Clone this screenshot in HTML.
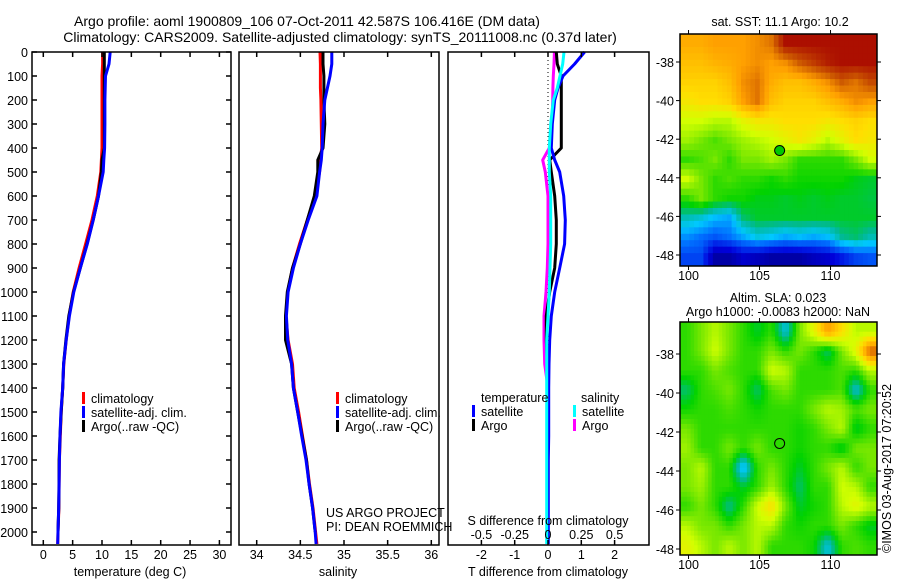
<!DOCTYPE html>
<html><head><meta charset="utf-8"><title>Argo profile</title>
<style>
html,body{margin:0;padding:0;background:#fff;}
svg{display:block;font-family:"Liberation Sans",sans-serif;}
text{font-size:12.5px;fill:#000;}
</style></head>
<body>
<svg id="chart" width="900" height="580" viewBox="0 0 900 580" xmlns="http://www.w3.org/2000/svg">
<text x="307" y="26" text-anchor="middle" style="font-size:14px">Argo profile: aoml 1900809_106 07-Oct-2011 42.587S 106.416E (DM data)</text>
<text x="340" y="42" text-anchor="middle" style="font-size:14px">Climatology: CARS2009. Satellite-adjusted climatology: synTS_20111008.nc (0.37d later)</text>
<g id="g1"></g>
<g id="g2"></g>
<g id="g3"></g>
<g id="m1"></g>
<g id="m2"></g>
<text x="780" y="26" text-anchor="middle">sat. SST: 11.1 Argo: 10.2</text>
<text x="778" y="302" text-anchor="middle">Altim. SLA: 0.023</text>
<text x="778" y="316" text-anchor="middle">Argo h1000: -0.0083 h2000: NaN</text>
<text transform="translate(891,553) rotate(-90)">©IMOS 03-Aug-2017 07:20:52</text>
</svg>
<script>
const depths = [0,50,100,150,200,300,400,450,500,600,700,800,900,1000,1100,1200,1300,1400,1500,1600,1700,1800,1900,2000,2050];
const tClim = [10.1,10.1,10.0,10.0,10.0,10.0,10.0,9.9,9.8,9.2,8.3,7.2,6.1,5.1,4.4,3.9,3.5,3.3,3.05,2.9,2.75,2.7,2.65,2.5,2.45];
const tSat = [11.4,11.2,10.6,10.55,10.5,10.5,10.45,10.3,10.2,9.4,8.5,7.5,6.3,5.2,4.45,3.9,3.45,3.3,3.0,2.85,2.75,2.7,2.62,2.5,2.45];
const tArgo = [10.4,10.4,10.4,10.4,10.4,10.4,10.4,10.0,9.9,9.4,8.5,7.45,6.3,5.15,4.35,3.85,3.45,3.3,3.05,2.85,2.7,2.68,2.62,2.5,2.45];
const sClim = [34.725,34.73,34.73,34.73,34.735,34.74,34.745,34.73,34.72,34.67,34.58,34.49,34.41,34.355,34.335,34.36,34.41,34.43,34.48,34.525,34.57,34.605,34.645,34.675,34.69];
const sSat = [34.86,34.86,34.84,34.81,34.78,34.76,34.75,34.74,34.72,34.69,34.59,34.5,34.42,34.36,34.34,34.355,34.4,34.42,34.47,34.515,34.565,34.6,34.64,34.67,34.68];
const sArgo = [34.76,34.76,34.77,34.77,34.77,34.78,34.76,34.70,34.70,34.66,34.58,34.5,34.41,34.35,34.33,34.33,34.4,34.42,34.47,34.52,34.57,34.6,34.64,34.67,34.68];
const dTSat = [1.1,0.8,0.45,0.3,0.2,0.13,0.1,0.2,0.35,0.47,0.52,0.5,0.35,0.2,0.1,0.05,0.03,0.02,0.02,0.02,0.01,0.01,0.01,0.01,0.01];
const dTArgo = [0.25,0.28,0.4,0.4,0.4,0.4,0.4,0.05,0.1,0.2,0.25,0.25,0.2,0.05,-0.05,-0.05,-0.02,0,0,0,0,0,0,0,0];
const dSSat = [0.12,0.11,0.09,0.07,0.04,0.02,0.01,0.01,0.01,0.02,0.02,0.02,0.015,0.01,0,-0.01,-0.01,-0.01,-0.01,-0.01,-0.01,-0.01,-0.01,-0.01,-0.01];
const dSArgo = [0.048,0.045,0.04,0.037,0.035,0.03,0.01,-0.04,-0.02,0,0,0,-0.005,-0.015,-0.03,-0.03,-0.025,0,0,0,0,0,0,0,0];
const depthTicks = [0,100,200,300,400,500,600,700,800,900,1000,1100,1200,1300,1400,1500,1600,1700,1800,1900,2000];
const tTicks = [0,5,10,15,20,25,30];
const sTicks = [34,34.5,35,35.5,36];
const sTickLabels = ["34","34.5","35","35.5","36"];
const dTTicks = [-2,-1,0,1,2];
const dSTicks = [-0.5,-0.25,0,0.25,0.5];
const dSTickLabels = ["-0.5","-0.25","0","0.25","0.5"];
const lonTicks = [100,105,110];
const latTicks = [-38,-40,-42,-44,-46,-48];
const argoLon = 106.416, argoLat = -42.587;
const sstGrid = [
[0.78,0.78,0.8,0.8,0.8,0.82,0.85,0.98,0.98,0.98,0.98,0.98,0.98,0.98],
[0.75,0.75,0.77,0.78,0.8,0.82,0.8,0.82,0.88,0.92,0.96,0.98,0.98,0.98],
[0.72,0.72,0.72,0.75,0.82,0.85,0.78,0.75,0.75,0.78,0.82,0.88,0.85,0.9],
[0.68,0.7,0.7,0.72,0.8,0.85,0.75,0.72,0.72,0.72,0.75,0.78,0.82,0.8],
[0.62,0.62,0.6,0.6,0.65,0.68,0.68,0.7,0.7,0.7,0.68,0.7,0.72,0.7],
[0.58,0.55,0.52,0.55,0.58,0.6,0.62,0.65,0.68,0.65,0.6,0.65,0.7,0.68],
[0.5,0.52,0.55,0.5,0.55,0.55,0.58,0.55,0.5,0.5,0.5,0.5,0.55,0.62],
[0.62,0.55,0.5,0.52,0.5,0.5,0.48,0.5,0.48,0.48,0.48,0.48,0.46,0.45],
[0.5,0.55,0.5,0.48,0.48,0.46,0.46,0.45,0.46,0.45,0.46,0.45,0.45,0.44],
[0.38,0.36,0.32,0.3,0.42,0.45,0.45,0.45,0.45,0.45,0.45,0.45,0.45,0.45],
[0.28,0.25,0.22,0.25,0.3,0.35,0.33,0.3,0.32,0.3,0.32,0.4,0.42,0.38],
[0.2,0.2,0.05,0.05,0.1,0.08,0.05,0.05,0.05,0.08,0.1,0.15,0.2,0.22]];
const slaGrid = [
[0.5,0.55,0.6,0.55,0.5,0.45,0.5,0.35,0.55,0.65,0.8,0.7,0.6,0.6],
[0.5,0.55,0.62,0.55,0.5,0.5,0.55,0.5,0.55,0.5,0.42,0.55,0.65,0.88],
[0.5,0.5,0.55,0.52,0.5,0.5,0.62,0.6,0.5,0.5,0.5,0.52,0.5,0.6],
[0.42,0.5,0.52,0.55,0.5,0.42,0.52,0.55,0.5,0.5,0.5,0.52,0.35,0.5],
[0.48,0.5,0.5,0.52,0.5,0.48,0.5,0.5,0.5,0.55,0.6,0.58,0.52,0.55],
[0.55,0.5,0.5,0.5,0.5,0.5,0.5,0.5,0.48,0.5,0.55,0.6,0.45,0.5],
[0.58,0.5,0.5,0.55,0.5,0.55,0.5,0.5,0.48,0.5,0.5,0.45,0.55,0.55],
[0.55,0.6,0.5,0.5,0.3,0.5,0.55,0.5,0.45,0.5,0.55,0.6,0.5,0.55],
[0.55,0.58,0.5,0.5,0.45,0.5,0.58,0.5,0.42,0.5,0.5,0.62,0.6,0.5],
[0.5,0.55,0.5,0.4,0.5,0.62,0.7,0.55,0.45,0.48,0.5,0.6,0.65,0.6],
[0.6,0.55,0.55,0.5,0.55,0.6,0.6,0.5,0.48,0.5,0.5,0.55,0.5,0.45],
[0.65,0.6,0.55,0.6,0.55,0.6,0.5,0.5,0.5,0.48,0.35,0.5,0.52,0.5]];

const NS = "http://www.w3.org/2000/svg";
function mk(parent, tag, attrs){const e=document.createElementNS(NS,tag);for(const k in attrs)e.setAttribute(k,attrs[k]);parent.appendChild(e);return e;}
function txt(parent,x,y,s,anchor){const t=mk(parent,"text",{x:x,y:y,"text-anchor":anchor||"middle"});t.textContent=s;return t;}

const PT=52, PB=545;
const yD = d => PT + d*0.24;
const xT = t => 43.3 + t*5.87;
const xS = s => 256.7 + (s-34)*87.3;
const xDT = t => 548 + t*33.3;
const xDS = s => 548 + s*133.2;

function frame(g,x0,x1,name){
  const r=mk(g,"rect",{x:x0,y:PT,width:x1-x0,height:PB-PT,fill:"none",stroke:"#000","stroke-width":1.5});
  
  
}
function xticks(g,vals,fx){
  vals.forEach(v=>{const x=fx(v);
    mk(g,"line",{x1:x,x2:x,y1:PT,y2:PT+5,stroke:"#000","stroke-width":1.5});
    mk(g,"line",{x1:x,x2:x,y1:PB,y2:PB-5,stroke:"#000","stroke-width":1.5});});
}
function xlabels(g,vals,labels,fx,y,name){
  vals.forEach((v,i)=>{const t=txt(g,fx(v),y,labels[i]);
    
    });
}
function profile(g,vals,fx,color,name,n){
  const pts=[];const m=n||vals.length;
  for(let i=0;i<m;i++){
    pts.push(fx(vals[i]).toFixed(1)+","+yD(depths[i]).toFixed(1));
  }
  const p=mk(g,"polyline",{points:pts.join(" "),fill:"none",stroke:color,"stroke-width":3,"stroke-linejoin":"round"});
  
  
}
function legendEntry(g,x,y,color,label,name){
  const e=mk(g,"g",{});
  
  
  mk(e,"rect",{x:x,y:y-11,width:3,height:12,fill:color});
  txt(e,x+9,y,label,"start");
}

// Panel 1
const g1=document.getElementById("g1");
profile(g1,tClim,xT,"#ff0000","temp-climatology-line");
profile(g1,tArgo,xT,"#000000","temp-argo-line",24);
profile(g1,tSat,xT,"#0000ff","temp-satellite-line");
frame(g1,32,231,"temperature-plot-frame");
xticks(g1,tTicks,xT);
xlabels(g1,tTicks,tTicks.map(String),xT,559,"temperature-tick-label");
depthTicks.forEach(d=>{const y=yD(d);
  mk(g1,"line",{x1:32,x2:37,y1:y,y2:y,stroke:"#000","stroke-width":1.5});
  mk(g1,"line",{x1:226,x2:231,y1:y,y2:y,stroke:"#000","stroke-width":1.5});
  const t=txt(g1,28,y+5,String(d),"end");
  
  
});
{const t=txt(g1,130,576,"temperature (deg C)");}
legendEntry(g1,82,403,"#ff0000","climatology","legend-climatology");
legendEntry(g1,82,417,"#0000ff","satellite-adj. clim.","legend-satellite");
legendEntry(g1,82,431,"#000000","Argo(..raw -QC)","legend-argo");

// Panel 2
const g2=document.getElementById("g2");
profile(g2,sClim,xS,"#ff0000","sal-climatology-line");
profile(g2,sArgo,xS,"#000000","sal-argo-line",24);
profile(g2,sSat,xS,"#0000ff","sal-satellite-line");
frame(g2,239,439,"salinity-plot-frame");
xticks(g2,sTicks,xS);
xlabels(g2,sTicks,sTickLabels,xS,559,"salinity-tick-label");
{const t=txt(g2,338,576,"salinity");}
legendEntry(g2,336,403,"#ff0000","climatology","legend-climatology");
legendEntry(g2,336,417,"#0000ff","satellite-adj. clim.","legend-satellite");
legendEntry(g2,336,431,"#000000","Argo(..raw -QC)","legend-argo");
{const t=txt(g2,326,517,"US ARGO PROJECT","start");}
{const t=txt(g2,326,531,"PI: DEAN ROEMMICH","start");}

// Panel 3
const g3=document.getElementById("g3");
mk(g3,"line",{x1:xDT(0),x2:xDT(0),y1:PT,y2:PB,stroke:"#000","stroke-width":1,"stroke-dasharray":"1,3"});
profile(g3,dSArgo,xDS,"#ff00ff","sal-argo-diff-line");
profile(g3,dTArgo,xDT,"#000000","temp-argo-diff-line");
profile(g3,dTSat,xDT,"#0000ff","temp-satellite-diff-line");
profile(g3,dSSat,xDS,"#00ffff","sal-satellite-diff-line");
frame(g3,448,649,"difference-plot-frame");
xticks(g3,dTTicks,xDT);
xlabels(g3,dTTicks,dTTicks.map(String),xDT,559,"t-diff-tick-label");
xlabels(g3,dSTicks,dSTickLabels,xDS,539,"s-diff-tick-label");
{const t=txt(g3,548,525,"S difference from climatology");}
{const t=txt(g3,548,576,"T difference from climatology");}
{const t=txt(g3,481,402,"temperature","start");}
{const t=txt(g3,581,402,"salinity","start");}
legendEntry(g3,472,416,"#0000ff","satellite","legend-temp-satellite");
legendEntry(g3,472,430,"#000000","Argo","legend-temp-argo");
legendEntry(g3,573,416,"#00ffff","satellite","legend-sal-satellite");
legendEntry(g3,573,430,"#ff00ff","Argo","legend-sal-argo");

// Maps
const stops=[[0,[0,0,128]],[0.12,[0,0,220]],[0.25,[0,110,255]],[0.33,[0,200,255]],[0.4,[0,185,150]],[0.47,[0,210,0]],[0.55,[120,232,0]],[0.62,[210,255,0]],[0.7,[255,222,0]],[0.8,[255,160,0]],[0.88,[205,90,0]],[1,[165,0,0]]];
function cmap(v){for(let i=1;i<stops.length;i++){if(v<=stops[i][0]){const a=stops[i-1],b=stops[i];const f=(v-a[0])/(b[0]-a[0]);const c=a[1].map((x,k)=>Math.round(x+(b[1][k]-x)*f));return "rgb("+c.join(",")+")";}}return "rgb(165,0,0)";}
function sample(grid,fr,fc){
  const rows=grid.length, cols=grid[0].length;
  const r=Math.min(Math.max(fr-0.5,0),rows-1), c=Math.min(Math.max(fc-0.5,0),cols-1);
  const r0=Math.floor(r), c0=Math.floor(c), r1=Math.min(r0+1,rows-1), c1=Math.min(c0+1,cols-1);
  const a=r-r0, b=c-c0;
  return grid[r0][c0]*(1-a)*(1-b)+grid[r0][c1]*(1-a)*b+grid[r1][c0]*a*(1-b)+grid[r1][c1]*a*b;
}
function drawMap(id,grid,x0,x1,y0,y1,lonX,latY,filled,name,sub){
  const g=document.getElementById(id);
  const rows=grid.length*sub, cols=grid[0].length*sub;
  const cw=(x1-x0)/cols, ch=(y1-y0)/rows;
  for(let r=0;r<rows;r++)for(let c=0;c<cols;c++){
    const v=sample(grid,(r+0.5)/sub,(c+0.5)/sub);
    const cell=mk(g,"rect",{x:(x0+c*cw).toFixed(2),y:(y0+r*ch).toFixed(2),width:(cw+0.5).toFixed(2),height:(ch+0.5).toFixed(2),fill:cmap(v)});
    
    
  }
  const f=mk(g,"rect",{x:x0,y:y0,width:x1-x0,height:y1-y0,fill:"none",stroke:"#000","stroke-width":1.5});
  
  
  lonTicks.forEach(l=>{const x=lonX(l);
    mk(g,"line",{x1:x,x2:x,y1:y0-4,y2:y0,stroke:"#000","stroke-width":1});
    mk(g,"line",{x1:x,x2:x,y1:y1,y2:y1+4,stroke:"#000","stroke-width":1});
    const t=txt(g,x,y1+14,String(l));
    
    });
  latTicks.forEach(l=>{const y=latY(l);
    mk(g,"line",{x1:x0-4,x2:x0,y1:y,y2:y,stroke:"#000","stroke-width":1});
    mk(g,"line",{x1:x1,x2:x1+4,y1:y,y2:y,stroke:"#000","stroke-width":1});
    const t=txt(g,x0-6,y+5,String(l),"end");
    
    });
  const m=mk(g,"circle",{cx:lonX(argoLon),cy:latY(argoLat),r:5,fill:filled?"#00c800":"none",stroke:"#000","stroke-width":1});
  
  
}
const lonX = l => 680 + (l-99.4)*14.2;
drawMap("m1",sstGrid,680,877,34,266,lonX,l=>62+(-38-l)*19.3,true,"sst-map",3);
drawMap("m2",slaGrid,680,877,322,555,lonX,l=>354+(-38-l)*19.5,false,"sla-map",4);
</script>
</body></html>
